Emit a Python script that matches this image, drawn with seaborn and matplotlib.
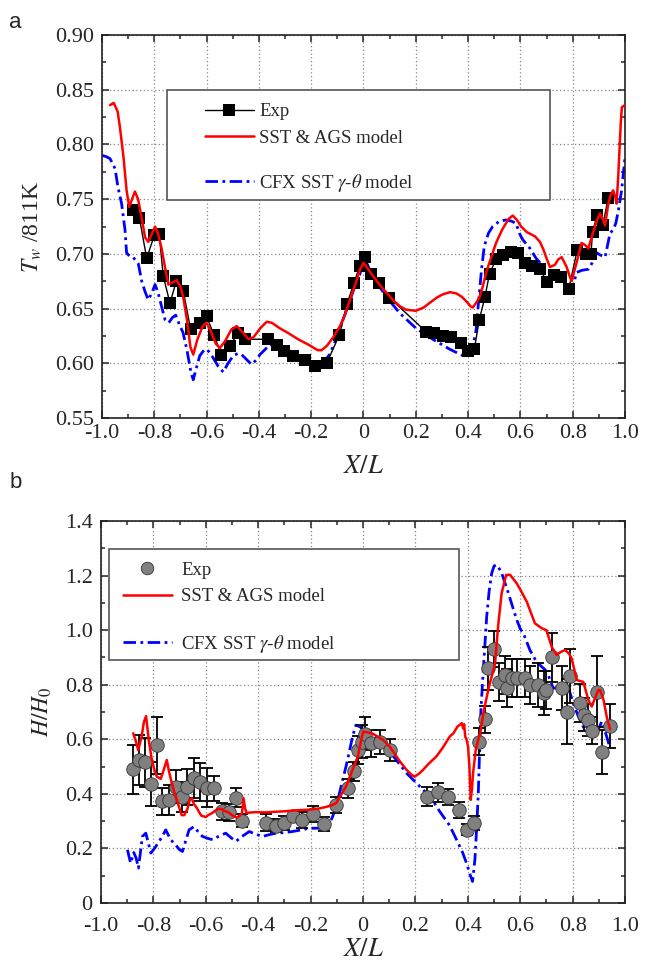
import matplotlib
matplotlib.use("Agg")
import matplotlib.pyplot as plt
from matplotlib.lines import Line2D
from matplotlib.patches import Rectangle
from matplotlib.ticker import MultipleLocator, FuncFormatter
import seaborn as sns

# ---------------- panel a: wall temperature ----------------
exp_a_x = [-0.880, -0.857, -0.829, -0.800, -0.781, -0.766, -0.740, -0.716, -0.689, -0.661,
           -0.625, -0.600, -0.572, -0.543, -0.511, -0.479, -0.453, -0.364, -0.332, -0.304,
           -0.269, -0.224, -0.186, -0.141, -0.092, -0.063, -0.037, -0.014, 0.004, 0.029,
           0.061, 0.099, 0.239, 0.270, 0.303, 0.335, 0.373, 0.399, 0.424, 0.443,
           0.465, 0.482, 0.507, 0.532, 0.564, 0.592, 0.618, 0.645, 0.675, 0.703,
           0.730, 0.756, 0.785, 0.818, 0.850, 0.870, 0.876, 0.894, 0.915, 0.936]
exp_a_y = [0.740, 0.733, 0.696, 0.717, 0.718, 0.680, 0.655, 0.675, 0.666, 0.631,
           0.637, 0.643, 0.626, 0.608, 0.616, 0.628, 0.622, 0.622, 0.617, 0.611,
           0.607, 0.603, 0.598, 0.600, 0.626, 0.654, 0.673, 0.689, 0.697, 0.682,
           0.673, 0.660, 0.629, 0.628, 0.625, 0.624, 0.619, 0.611, 0.613, 0.640,
           0.661, 0.682, 0.695, 0.699, 0.702, 0.701, 0.692, 0.689, 0.686, 0.674,
           0.681, 0.679, 0.668, 0.704, 0.700, 0.700, 0.720, 0.736, 0.726, 0.751]

sst_a_x = [-0.969, -0.955, -0.940, -0.931, -0.918, -0.906, -0.896, -0.885, -0.874, -0.862,
           -0.850, -0.835, -0.823, -0.810, -0.797, -0.785, -0.772, -0.757, -0.746, -0.730,
           -0.714, -0.700, -0.689, -0.674, -0.662, -0.651, -0.635, -0.615, -0.600, -0.585,
           -0.565, -0.549, -0.530, -0.505, -0.485, -0.460, -0.440, -0.420, -0.395, -0.370,
           -0.350, -0.320, -0.290, -0.250, -0.210, -0.175, -0.160, -0.140, -0.115, -0.090,
           -0.070, -0.052, -0.030, -0.013, 0.000, 0.030, 0.061, 0.090, 0.112, 0.140,
           0.163, 0.200, 0.230, 0.252, 0.280, 0.303, 0.330, 0.354, 0.375, 0.392,
           0.410, 0.418, 0.430, 0.443, 0.456, 0.469, 0.490, 0.507, 0.530, 0.555,
           0.571, 0.587, 0.603, 0.624, 0.656, 0.675, 0.688, 0.700, 0.713, 0.732,
           0.745, 0.758, 0.777, 0.788, 0.796, 0.806, 0.815, 0.834, 0.848, 0.860,
           0.876, 0.892, 0.904, 0.915, 0.924, 0.935, 0.945, 0.955, 0.963, 0.968,
           0.974, 0.978, 0.984, 0.988, 1.000]
sst_a_y = [0.836, 0.838, 0.830, 0.815, 0.789, 0.758, 0.743, 0.750, 0.757, 0.750,
           0.735, 0.715, 0.711, 0.718, 0.725, 0.718, 0.705, 0.685, 0.672, 0.674,
           0.676, 0.670, 0.660, 0.638, 0.615, 0.608, 0.622, 0.634, 0.637, 0.630,
           0.618, 0.614, 0.620, 0.631, 0.634, 0.628, 0.622, 0.624, 0.632, 0.638,
           0.637, 0.632, 0.628, 0.622, 0.617, 0.612, 0.612, 0.616, 0.624, 0.634,
           0.645, 0.658, 0.673, 0.686, 0.692, 0.682, 0.672, 0.664, 0.658, 0.652,
           0.649, 0.648, 0.651, 0.655, 0.660, 0.663, 0.665, 0.664, 0.661, 0.657,
           0.652, 0.651, 0.655, 0.660, 0.670, 0.683, 0.698, 0.710, 0.722, 0.732,
           0.735, 0.731, 0.725, 0.720, 0.716, 0.711, 0.704, 0.696, 0.688, 0.690,
           0.695, 0.697, 0.688, 0.680, 0.675, 0.684, 0.692, 0.710, 0.708, 0.705,
           0.718, 0.730, 0.737, 0.732, 0.726, 0.744, 0.754, 0.758, 0.752, 0.746,
           0.770, 0.790, 0.820, 0.834, 0.836]

cfx_a_x = [-1.000, -0.985, -0.969, -0.950, -0.939, -0.925, -0.912, -0.906, -0.895, -0.881,
           -0.861, -0.848, -0.836, -0.823, -0.810, -0.797, -0.785, -0.770, -0.759, -0.745,
           -0.730, -0.718, -0.705, -0.690, -0.675, -0.660, -0.651, -0.640, -0.626, -0.610,
           -0.600, -0.585, -0.575, -0.555, -0.536, -0.518, -0.498, -0.480, -0.466, -0.445,
           -0.428, -0.410, -0.396, -0.375, -0.358, -0.330, -0.307, -0.270, -0.243, -0.210,
           -0.190, -0.152, -0.130, -0.115, -0.095, -0.078, -0.058, -0.038, -0.013, 0.000,
           0.036, 0.087, 0.138, 0.201, 0.265, 0.329, 0.380, 0.400, 0.411, 0.422,
           0.431, 0.437, 0.443, 0.452, 0.462, 0.478, 0.494, 0.520, 0.545, 0.565,
           0.583, 0.598, 0.609, 0.637, 0.660, 0.675, 0.713, 0.751, 0.770, 0.790,
           0.803, 0.815, 0.835, 0.860, 0.875, 0.892, 0.905, 0.924, 0.943, 0.955,
           0.965, 0.975, 0.987, 1.000]
cfx_a_y = [0.790, 0.789, 0.787, 0.778, 0.761, 0.746, 0.722, 0.701, 0.698, 0.697,
           0.691, 0.675, 0.666, 0.658, 0.664, 0.672, 0.664, 0.650, 0.640, 0.637,
           0.642, 0.644, 0.636, 0.628, 0.612, 0.592, 0.585, 0.595, 0.607, 0.612,
           0.613, 0.609, 0.605, 0.597, 0.592, 0.600, 0.607, 0.609, 0.608, 0.603,
           0.599, 0.603, 0.608, 0.613, 0.617, 0.616, 0.613, 0.608, 0.605, 0.602,
           0.600, 0.601, 0.608, 0.616, 0.628, 0.640, 0.653, 0.667, 0.682, 0.698,
           0.679, 0.661, 0.646, 0.632, 0.622, 0.613, 0.607, 0.607, 0.611, 0.620,
           0.631, 0.648, 0.664, 0.687, 0.707, 0.719, 0.725, 0.730, 0.731, 0.730,
           0.728, 0.718, 0.713, 0.705, 0.696, 0.692, 0.683, 0.677, 0.674, 0.667,
           0.672, 0.683, 0.685, 0.686, 0.692, 0.701, 0.699, 0.697, 0.719, 0.722,
           0.728, 0.740, 0.758, 0.788]

# ---------------- panel b: heat transfer ratio ----------------
exp_b_x = [-0.877, -0.855, -0.833, -0.810, -0.786, -0.767, -0.740, -0.713, -0.692, -0.670,
           -0.645, -0.621, -0.596, -0.570, -0.540, -0.513, -0.485, -0.460, -0.370, -0.334,
           -0.302, -0.268, -0.231, -0.192, -0.148, -0.103, -0.059, -0.033, -0.019, -0.004,
           0.006, 0.032, 0.064, 0.102, 0.245, 0.287, 0.325, 0.367, 0.395, 0.424,
           0.444, 0.466, 0.478, 0.500, 0.520, 0.542, 0.551, 0.567, 0.587, 0.618,
           0.637, 0.669, 0.691, 0.700, 0.720, 0.758, 0.777, 0.790, 0.828, 0.845,
           0.860, 0.875, 0.892, 0.911, 0.943]
exp_b_y = [0.490, 0.524, 0.515, 0.436, 0.578, 0.372, 0.379, 0.426, 0.390, 0.425,
           0.458, 0.443, 0.423, 0.420, 0.336, 0.332, 0.386, 0.302, 0.295, 0.284,
           0.293, 0.318, 0.305, 0.326, 0.290, 0.360, 0.421, 0.482, 0.561, 0.591,
           0.620, 0.585, 0.590, 0.561, 0.390, 0.405, 0.388, 0.341, 0.268, 0.293,
           0.591, 0.673, 0.860, 0.930, 0.811, 0.836, 0.787, 0.824, 0.824, 0.824,
           0.799, 0.799, 0.769, 0.780, 0.900, 0.787, 0.701, 0.832, 0.732, 0.690,
           0.671, 0.632, 0.775, 0.554, 0.649]
exp_b_err = [0.090, 0.090, 0.090, 0.080, 0.105, 0.050, 0.055, 0.060, 0.055, 0.065,
             0.075, 0.070, 0.070, 0.045, 0.030, 0.030, 0.035, 0.025, 0.030, 0.025,
             0.025, 0.020, 0.030, 0.030, 0.025, 0.030, 0.035, 0.035, 0.050, 0.060,
             0.060, 0.050, 0.045, 0.040, 0.035, 0.035, 0.030, 0.030, 0.020, 0.025,
             0.050, 0.050, 0.080, 0.065, 0.070, 0.070, 0.070, 0.070, 0.070, 0.070,
             0.070, 0.080, 0.080, 0.070, 0.090, 0.080, 0.120, 0.100, 0.070, 0.060,
             0.060, 0.050, 0.130, 0.080, 0.080]

sst_b_x = [-0.877, -0.866, -0.858, -0.845, -0.836, -0.828, -0.818, -0.807, -0.797, -0.787,
           -0.772, -0.760, -0.749, -0.740, -0.730, -0.720, -0.711, -0.700, -0.692, -0.682,
           -0.670, -0.661, -0.654, -0.645, -0.635, -0.625, -0.617, -0.600, -0.591, -0.575,
           -0.562, -0.550, -0.541, -0.530, -0.515, -0.500, -0.483, -0.470, -0.462, -0.456,
           -0.450, -0.444, -0.425, -0.406, -0.375, -0.343, -0.300, -0.267, -0.230, -0.205,
           -0.170, -0.141, -0.120, -0.103, -0.085, -0.065, -0.040, -0.020, 0.000, 0.020,
           0.038, 0.076, 0.100, 0.115, 0.140, 0.166, 0.185, 0.197, 0.215, 0.229,
           0.250, 0.280, 0.305, 0.331, 0.345, 0.360, 0.377, 0.382, 0.386, 0.390,
           0.395, 0.401, 0.406, 0.411, 0.416, 0.420, 0.430, 0.440, 0.447, 0.460,
           0.478, 0.504, 0.516, 0.529, 0.546, 0.561, 0.587, 0.605, 0.625, 0.656,
           0.682, 0.700, 0.720, 0.739, 0.755, 0.771, 0.785, 0.796, 0.816, 0.841,
           0.860, 0.873, 0.885, 0.898, 0.905, 0.918, 0.930, 0.943]
sst_b_y = [0.622, 0.590, 0.560, 0.610, 0.665, 0.685, 0.600, 0.530, 0.490, 0.463,
           0.455, 0.490, 0.524, 0.480, 0.440, 0.405, 0.380, 0.345, 0.322, 0.322,
           0.345, 0.378, 0.384, 0.362, 0.350, 0.332, 0.320, 0.315, 0.322, 0.330,
           0.340, 0.345, 0.345, 0.338, 0.333, 0.322, 0.313, 0.320, 0.330, 0.384,
           0.345, 0.330, 0.332, 0.333, 0.332, 0.334, 0.336, 0.339, 0.341, 0.342,
           0.346, 0.352, 0.358, 0.366, 0.395, 0.427, 0.488, 0.537, 0.628, 0.625,
           0.620, 0.598, 0.575, 0.555, 0.520, 0.488, 0.470, 0.463, 0.475, 0.488,
           0.510, 0.537, 0.570, 0.610, 0.622, 0.646, 0.659, 0.640, 0.655, 0.610,
           0.600, 0.573, 0.500, 0.378, 0.420, 0.476, 0.560, 0.600, 0.620, 0.700,
           0.781, 0.879, 1.019, 1.135, 1.202, 1.203, 1.171, 1.140, 1.104, 1.025,
           1.007, 1.000, 0.939, 0.909, 0.920, 0.927, 0.915, 0.897, 0.817, 0.810,
           0.744, 0.720, 0.750, 0.780, 0.781, 0.744, 0.683, 0.636]

cfx_b_x = [-0.899, -0.887, -0.875, -0.866, -0.857, -0.842, -0.829, -0.818, -0.810, -0.800,
           -0.791, -0.766, -0.753, -0.734, -0.715, -0.700, -0.689, -0.676, -0.664, -0.645,
           -0.630, -0.613, -0.590, -0.574, -0.550, -0.524, -0.505, -0.485, -0.460, -0.434,
           -0.410, -0.383, -0.360, -0.332, -0.300, -0.269, -0.235, -0.205, -0.170, -0.141,
           -0.128, -0.116, -0.103, -0.090, -0.078, -0.065, -0.052, -0.040, -0.027, -0.010,
           0.000, 0.051, 0.102, 0.166, 0.217, 0.260, 0.293, 0.330, 0.357, 0.380,
           0.395, 0.410, 0.418, 0.427, 0.434, 0.440, 0.445, 0.450, 0.459, 0.472,
           0.481, 0.491, 0.500, 0.510, 0.520, 0.529, 0.541, 0.555, 0.571, 0.587,
           0.600, 0.612, 0.637, 0.662, 0.682, 0.695, 0.707, 0.726, 0.745, 0.760,
           0.777, 0.790, 0.802, 0.822, 0.847, 0.866, 0.885, 0.900, 0.911, 0.930,
           0.943]
cfx_b_y = [0.195, 0.146, 0.185, 0.165, 0.128, 0.244, 0.256, 0.215, 0.183, 0.195,
           0.207, 0.244, 0.268, 0.232, 0.213, 0.195, 0.189, 0.230, 0.268, 0.280,
           0.262, 0.244, 0.236, 0.232, 0.245, 0.256, 0.240, 0.226, 0.245, 0.262,
           0.252, 0.244, 0.250, 0.256, 0.258, 0.262, 0.268, 0.274, 0.274, 0.274,
           0.290, 0.317, 0.355, 0.402, 0.450, 0.500, 0.555, 0.610, 0.652, 0.645,
           0.634, 0.610, 0.555, 0.476, 0.427, 0.385, 0.335, 0.285, 0.232, 0.185,
           0.146, 0.100, 0.079, 0.159, 0.280, 0.402, 0.560, 0.707, 0.854, 1.049,
           1.140, 1.208, 1.235, 1.239, 1.225, 1.210, 1.175, 1.135, 1.085, 1.037,
           1.005, 0.988, 0.927, 0.884, 0.866, 0.855, 0.835, 0.787, 0.790, 0.800,
           0.805, 0.770, 0.732, 0.683, 0.634, 0.659, 0.610, 0.640, 0.665, 0.610,
           0.567]

labels = ["Exp", "SST & AGS model", r"CFX SST $\gamma$-$\theta$ model"]

sns.set_style("ticks")
plt.rcParams["font.family"] = ["Liberation Serif", "DejaVu Serif"]
plt.rcParams["mathtext.fontset"] = "stix"
plt.rcParams["axes.unicode_minus"] = False

RED = "#ff0000"
BLUE = "#0000ff"
CFX_LS = (0, (4.5, 1.6, 1.0, 1.6))


def style_axes(ax, ylim, ymajor, yminor, yfmt, xpad, xlabelpad):
    ax.set_xlim(-1.0, 1.0)
    ax.set_ylim(*ylim)
    ax.xaxis.set_major_locator(MultipleLocator(0.2))
    ax.xaxis.set_minor_locator(MultipleLocator(0.1))
    ax.yaxis.set_major_locator(MultipleLocator(ymajor))
    ax.yaxis.set_minor_locator(MultipleLocator(yminor))
    ax.xaxis.set_major_formatter(FuncFormatter(lambda v, _: "0" if abs(v) < 1e-9 else f"{v:.1f}"))
    ax.yaxis.set_major_formatter(FuncFormatter(yfmt))
    ax.tick_params(which="both", direction="in", top=True, right=True, width=1.1)
    ax.tick_params(which="major", length=5, labelsize=16)
    ax.tick_params(axis="x", which="major", pad=xpad)
    ax.tick_params(axis="y", which="major", pad=6)
    ax.tick_params(which="minor", length=3)
    ax.grid(True, which="major", linestyle=(0, (1, 2)), color="#888888", linewidth=0.9)
    for s in ax.spines.values():
        s.set_linewidth(1.2)
        s.set_color("#222222")
    ax.set_xlabel(r"$X/L$", fontsize=19, labelpad=xlabelpad)


def add_legend(ax, handles, box, x0, y_first, y_last, textpad):
    # white framed box, then two borderless legends so the last entry sits lower
    rect = Rectangle(box[:2], box[2], box[3], transform=ax.transAxes, facecolor="white",
                     edgecolor="#555555", linewidth=1.2, zorder=6)
    ax.add_patch(rect)
    opts = dict(loc="upper left", frameon=False, borderpad=0, borderaxespad=0,
                fontsize=13.5, handlelength=2.6, handletextpad=textpad, labelspacing=0.5)
    leg1 = ax.legend(handles=handles[:2], labels=labels[:2], bbox_to_anchor=(x0, y_first), **opts)
    leg1.set_zorder(7)
    ax.add_artist(leg1)
    leg2 = ax.legend(handles=handles[2:], labels=labels[2:], bbox_to_anchor=(x0, y_last), **opts)
    leg2.set_zorder(7)


fig = plt.figure(figsize=(6.58, 9.63), dpi=100)
ax1 = fig.add_axes([0.155, 0.5659, 0.7948, 0.3977])
ax2 = fig.add_axes([0.1535, 0.0623, 0.7964, 0.3967])

# panel a
sns.lineplot(x=exp_a_x, y=exp_a_y, ax=ax1, color="black", linewidth=1.0, marker="s",
             markersize=8, markeredgewidth=0, estimator=None, sort=False, zorder=3)
sns.lineplot(x=sst_a_x, y=sst_a_y, ax=ax1, color=RED, linewidth=1.8, estimator=None,
             sort=False, zorder=4)
sns.lineplot(x=cfx_a_x, y=cfx_a_y, ax=ax1, color=BLUE, linewidth=2.0, linestyle=CFX_LS,
             estimator=None, sort=False, zorder=2)
style_axes(ax1, (0.55, 0.90), 0.05, 0.025, lambda v, _: f"{v:.2f}", 4, 10)
ax1.set_ylabel(r"$T_w$ /811K", fontsize=17, labelpad=8)
h_a = [Line2D([], [], color="black", linewidth=1.0, marker="s", markersize=8, markeredgewidth=0),
       Line2D([], [], color=RED, linewidth=1.8),
       Line2D([], [], color=BLUE, linewidth=2.0, linestyle=CFX_LS)]
add_legend(ax1, h_a, (0.124, 0.569, 0.733, 0.287), 0.197, 0.822, 0.643, 0.3)

# panel b
ax2.errorbar(exp_b_x, exp_b_y, yerr=exp_b_err, fmt="none", ecolor="black",
             elinewidth=1.3, capsize=4, capthick=1.3, zorder=3)
sns.scatterplot(x=exp_b_x, y=exp_b_y, ax=ax2, color="#808080", edgecolor="#333333",
                linewidth=0.6, s=95, zorder=4)
sns.lineplot(x=sst_b_x, y=sst_b_y, ax=ax2, color=RED, linewidth=1.8, estimator=None,
             sort=False, zorder=5)
sns.lineplot(x=cfx_b_x, y=cfx_b_y, ax=ax2, color=BLUE, linewidth=2.0, linestyle=CFX_LS,
             estimator=None, sort=False, zorder=2)
style_axes(ax2, (0.0, 1.4), 0.2, 0.1,
           lambda v, _: "0" if abs(v) < 1e-9 else f"{v:.1f}", 10, 2)
ax2.set_ylabel(r"$H/H_0$", fontsize=17, labelpad=8)
h_b = [Line2D([], [], linestyle="none", marker="o", markersize=9, markerfacecolor="#808080",
              markeredgecolor="#333333", markeredgewidth=0.6),
       Line2D([], [], color=RED, linewidth=1.8),
       Line2D([], [], color=BLUE, linewidth=2.0, linestyle=CFX_LS)]
add_legend(ax2, h_b, (0.015, 0.636, 0.668, 0.291), 0.042, 0.893, 0.707, 0.5)

fig.text(0.014, 0.988, "a", fontsize=16, family=["Liberation Sans", "DejaVu Sans"], va="top")
fig.text(0.014, 0.510, "b", fontsize=16, family=["Liberation Sans", "DejaVu Sans"], va="top")

fig.savefig("out.png", dpi=100)
